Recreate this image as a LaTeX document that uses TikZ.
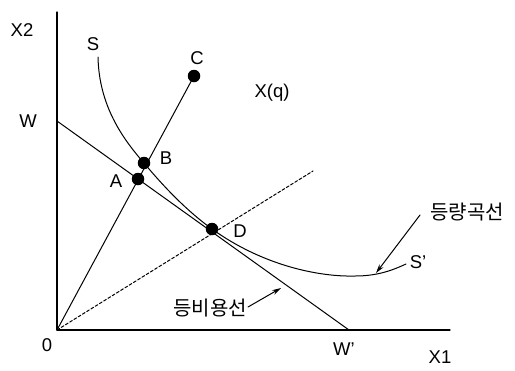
\documentclass[tikz,border=0pt]{standalone}
\usepackage{fontspec}
\setmainfont{Liberation Sans}
\newfontfamily\krfont{Noto Sans CJK KR}
\usepackage{tikz}
\usetikzlibrary{arrows.meta,calc}
\definecolor{FigureInk}{HTML}{000000}

\begin{document}
\begin{tikzpicture}[
  x=1bp,y=-1bp,
  >={Stealth[length=9bp,width=5bp]},
  line cap=round,
  line join=round,
  every node/.style={font=\fontsize{18.5bp}{20bp}\selectfont,text=FigureInk,inner sep=0pt},
  axisline/.style={FigureInk,line width=1.2bp},
  thinline/.style={FigureInk,line width=1bp},
  dotmark/.style={circle,fill=FigureInk,minimum size=12.5bp,inner sep=0pt},
  korlabel/.style={font=\krfont\fontsize{20bp}{22bp}\selectfont}
]
  \useasboundingbox (0,0) rectangle (515,370);

  % axes
  \coordinate (o) at (57,330);
  \coordinate (ytop) at (57,12);
  \coordinate (xend) at (450,330);
  \draw[axisline] (ytop)--(o)--(xend);

  % budget line and expansion lines
  \coordinate (w) at (57,121);
  \coordinate (wp) at (349,330);
  \coordinate (dashend) at (313,171);
  \draw[thinline] (w)--(wp);
  \draw[thinline,dash pattern=on 3bp off 2bp] (o)--(dashend);

  \node[dotmark] (A) at (138,179) {};
  \node[dotmark] (B) at (144,163) {};
  \node[dotmark] (C) at (194,76) {};
  \node[dotmark] (D) at (212,229) {};
  \draw[thinline] (o)--(C.center);

  % isoquant S-S'
  \coordinate (s) at (98,57);
  \coordinate (smin) at (355,276);
  \coordinate (sp) at (406,264);
  \draw[thinline] (s) .. controls (99,105) and (122,138) .. (B.center)
    .. controls (164,187) and (187,211) .. (D.center)
    .. controls (262,265) and (318,277) .. (smin)
    .. controls (378,276) and (393,270) .. (sp);

  % labels
  \node (lblxtwo) at (22,30) {X2};
  \node (lblxone) at (440,357) {X1};
  \node (lblzero) at (47,345) {0};
  \node (lblw) at (28,121) {W};
  \node (lblwp) at (344,349) {W'};
  \node (lbls) at (93,44) {S};
  \node (lblsp) at (418,262) {S'};
  \node (lbla) at (116,181) {A};
  \node (lblb) at (166,158) {B};
  \node (lblc) at (197,58) {C};
  \node (lbld) at (240,231) {D};
  \node (lblxq) at (272,93) {X(q)};
  \node[korlabel] (lbliso) at (467,212) {등량곡선};
  \node[korlabel] (lblcost) at (210,308) {등비용선};

  % pointers
  \coordinate (isotip) at (376,273);
  \coordinate (costtip) at (281,288);
  \draw[thinline,->] ($(lbliso.west)+(-10,3)$)--(isotip);
  \draw[thinline,->] ($(lblcost.east)+(1,-1)$)--(costtip);
\end{tikzpicture}
\end{document}
